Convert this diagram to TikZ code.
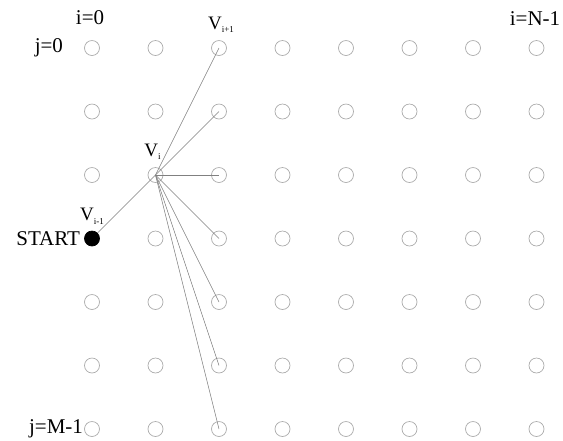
\documentclass[tikz,border=0pt]{standalone}
\usepackage{fontspec}
\setmainfont{Liberation Serif}
\usetikzlibrary{matrix,positioning}
\newcommand{\Vsub}[1]{V\raisebox{-0.4ex}{\fontsize{9}{9}\selectfont #1}}

\begin{document}
	\begin{tikzpicture}[x=1pt,y=1pt,
		dot/.style={circle,draw=gray!65,line width=0.7pt,minimum size=15pt,inner sep=0pt},
		startdot/.style={fill=black,draw=black},
		lbl/.style={inner sep=0pt,font=\fontsize{21}{25}\selectfont},
		vlbl/.style={inner sep=0pt,font=\fontsize{19}{21}\selectfont}]
		\useasboundingbox (0,0) rectangle (563,-440);
		\matrix (m) [matrix of nodes,nodes in empty cells,nodes={dot},row sep=47.8pt,column sep=47.8pt] at (314.25,-238.5)
		{
			&&&&&&& \\
			&&&&&&& \\
			&&&&&&& \\
			|[startdot]| &&&&&&& \\
			&&&&&&& \\
			&&&&&&& \\
			&&&&&&& \\};
		\node[lbl,above=15pt of m-1-1,xshift=-2pt] (i0) {i=0};
		\node[lbl,above=14pt of m-1-8,xshift=-1.5pt] (iN) {i=N-1};
		\node[lbl,left=21pt of m-1-1] (j0) {j=0};
		\node[lbl,left=1pt of m-7-1] (jM) {j=M-1};
		\node[lbl,left=4pt of m-4-1] (start) {START};
		\node[vlbl,above=6pt of m-4-1] (vprev) {\Vsub{i-1}};
		\node[vlbl,above=7pt of m-3-2,xshift=-3pt] (vcur) {\Vsub{i}};
		\node[vlbl,above=7pt of m-1-3,xshift=2pt] (vnext) {\Vsub{i+1}};
		\path[draw=gray,line width=0.5pt]
		(m-4-1) edge (m-3-2.center)
		(m-3-2.center) edge (m-1-3.center)
		(m-3-2.center) edge (m-2-3.center)
		(m-3-2.center) edge (m-3-3.center)
		(m-3-2.center) edge (m-4-3.center)
		(m-3-2.center) edge (m-5-3.center)
		(m-3-2.center) edge (m-6-3.center)
		(m-3-2.center) edge (m-7-3.center);
	\end{tikzpicture}
\end{document}
